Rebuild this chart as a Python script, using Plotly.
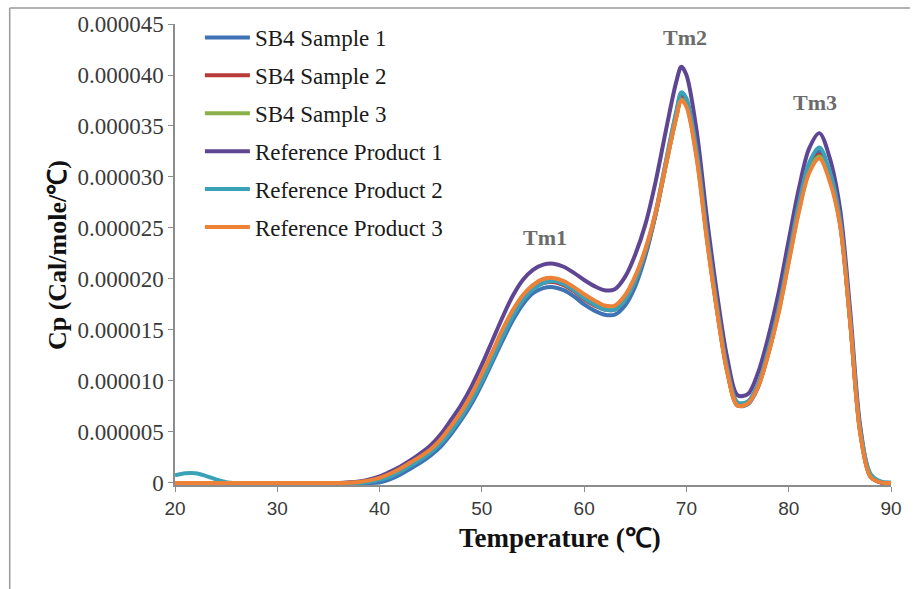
import plotly.graph_objects as go

# ---------------- data (Cp values in units of 1e-6 cal/mole/°C) ----------------
temperature = [20, 21, 22, 23, 24, 25, 26, 28, 30, 32, 34, 36, 37, 38, 39,
               40, 41, 42, 43, 44, 45, 46, 47, 48, 49, 50, 51, 52, 53, 54,
               55, 56, 57, 58, 59, 60, 61, 62, 63, 64, 65, 66, 67, 68, 69, 69.5,
               70, 71, 72, 73, 74, 75, 76, 77, 78, 79, 80, 81, 82, 83, 84,
               85, 86, 87, 88, 89, 90]

zeros_lead = [0, 0, 0, 0, 0, 0, 0, 0, 0, 0, 0]

sb4_sample_1 = zeros_lead + [0, 0, 0, 0,
    0.05, 0.35, 0.8, 1.4, 2.0, 2.7, 3.6, 4.8, 6.2, 7.8, 9.7, 11.8, 13.9, 15.9, 17.5,
    18.6, 19.1, 19.2, 18.9, 18.3, 17.5, 16.9, 16.5, 16.5, 17.4, 19.3, 22.3, 26.4, 31.4, 36.2, 38.0,
    37.5, 32.5, 24.4, 17.0, 11.0, 7.6, 7.7, 9.4, 12.8, 17.0, 22.1, 27.2, 31.1, 32.5, 30.3,
    25.8, 16.0, 5.0, 0.7, 0.05, 0]

sb4_sample_2 = zeros_lead + [0, 0.02, 0.08, 0.2,
    0.45, 0.8, 1.3, 1.9, 2.5, 3.2, 4.1, 5.4, 6.8, 8.4, 10.3, 12.4, 14.5, 16.5, 18.0,
    19.1, 19.6, 19.7, 19.4, 18.8, 18.0, 17.4, 17.0, 17.0, 17.9, 19.8, 22.6, 26.4, 31.2, 35.9, 37.8,
    37.2, 32.2, 24.1, 16.9, 10.9, 7.6, 7.8, 9.5, 12.7, 16.8, 21.9, 26.9, 30.8, 32.2, 30.0,
    25.6, 15.9, 4.9, 0.6, 0.05, 0]

sb4_sample_3 = zeros_lead + [0, 0.03, 0.1, 0.25,
    0.5, 0.85, 1.35, 1.95, 2.6, 3.3, 4.2, 5.5, 6.9, 8.6, 10.5, 12.7, 14.8, 16.8, 18.3,
    19.4, 19.9, 20.0, 19.7, 19.1, 18.3, 17.7, 17.3, 17.3, 18.2, 20.1, 22.8, 26.5, 31.2, 35.8, 37.6,
    37.0, 32.0, 24.0, 16.9, 10.9, 7.6, 7.8, 9.5, 12.7, 16.7, 21.7, 26.7, 30.6, 32.0, 29.8,
    25.5, 15.9, 4.9, 0.6, 0.05, 0]

reference_product_1 = zeros_lead + [0, 0.05, 0.15, 0.35,
    0.65, 1.1, 1.6, 2.2, 2.9, 3.7, 4.8, 6.2, 7.7, 9.5, 11.6, 13.9, 16.2, 18.3, 19.9,
    20.9, 21.4, 21.5, 21.2, 20.6, 19.9, 19.3, 18.9, 19.0, 20.2, 22.4, 25.4, 29.6, 34.6, 39.3, 40.8,
    40.0, 34.5, 26.0, 18.5, 12.2, 8.6, 8.7, 10.8, 14.3, 18.6, 23.8, 28.9, 32.8, 34.3, 31.9,
    27.0, 17.0, 5.5, 0.7, 0.05, 0]

reference_product_2 = [0.75, 0.95, 0.95, 0.7, 0.35, 0.08, 0, 0, 0, 0, 0, 0, 0, 0, 0.1,
    0.3, 0.6, 1.1, 1.7, 2.3, 3.0, 3.9, 5.1, 6.5, 8.1, 10.0, 12.1, 14.3, 16.3, 17.9,
    19.0, 19.6, 19.8, 19.5, 18.9, 18.1, 17.5, 17.0, 17.0, 17.9, 19.8, 22.7, 26.6, 31.6, 36.4, 38.3,
    37.7, 32.6, 24.5, 17.3, 11.2, 7.9, 8.0, 9.7, 13.0, 17.1, 22.2, 27.4, 31.4, 32.9, 30.6,
    26.0, 16.2, 5.2, 0.9, 0.15, 0.05]

reference_product_3 = zeros_lead + [0, 0.03, 0.1, 0.25,
    0.5, 0.9, 1.4, 2.0, 2.6, 3.3, 4.3, 5.6, 7.0, 8.7, 10.7, 12.8, 15.0, 16.9, 18.4,
    19.4, 20.0, 20.1, 19.8, 19.2, 18.5, 17.9, 17.4, 17.4, 18.4, 20.3, 23.0, 26.6, 31.3, 35.8, 37.5,
    36.9, 31.8, 23.8, 16.8, 10.8, 7.6, 7.8, 9.4, 12.6, 16.6, 21.6, 26.6, 30.4, 31.8, 29.6,
    25.4, 15.8, 4.8, 0.6, 0.05, 0]

series_names = ["SB4 Sample 1", "SB4 Sample 2", "SB4 Sample 3",
                "Reference Product 1", "Reference Product 2", "Reference Product 3"]
series_values = [sb4_sample_1, sb4_sample_2, sb4_sample_3,
                 reference_product_1, reference_product_2, reference_product_3]
series_colors = ["#3E73B5", "#B83A3A", "#8AB04A", "#5F4693", "#3AA2B8", "#EE8138"]

y_tick_values = [0, 5e-6, 10e-6, 15e-6, 20e-6, 25e-6, 30e-6, 35e-6, 40e-6, 45e-6]
y_tick_labels = ["0", "0.000005", "0.000010", "0.000015", "0.000020", "0.000025",
                 "0.000030", "0.000035", "0.000040", "0.000045"]
x_tick_values = [20, 30, 40, 50, 60, 70, 80, 90]

peak_labels = ["Tm1", "Tm2", "Tm3"]
peak_label_x = [56.2, 69.85, 82.6]
peak_label_y = [24.1e-6, 43.7e-6, 37.3e-6]

# ---------------- figure ----------------
W, H = 914, 589
ML, MR, MT, MB = 175, 20, 24, 104
PW, PH = W - ML - MR, H - MT - MB


def px_to_paper(px, py):
    return (px - ML) / PW, (H - MB - py) / PH


fig = go.Figure()
for name, vals, col in zip(series_names, series_values, series_colors):
    fig.add_trace(go.Scatter(
        x=temperature, y=[v * 1e-6 for v in vals], name=name, mode="lines",
        line=dict(color=col, width=4, shape="spline", smoothing=0.9),
        legendgroup=name, hoverinfo="skip"))

serif = "Liberation Serif, Times New Roman, serif"

for lab, lx, ly in zip(peak_labels, peak_label_x, peak_label_y):
    fig.add_annotation(x=lx, y=ly, text="<b>" + lab + "</b>", showarrow=False,
                       font=dict(family=serif, size=22, color="#6b6b6b"))

# axis titles
tx, ty = px_to_paper(562, 555)
fig.add_annotation(x=tx, y=ty, xref="paper", yref="paper", showarrow=False,
                   text="<b>Temperature (℃)</b>",
                   font=dict(family=serif, size=27, color="#111"))
tx, ty = px_to_paper(40, 255)
fig.add_annotation(x=tx, y=ty, xref="paper", yref="paper", showarrow=False,
                   text="<b>Cp (Cal/mole/℃)</b>", textangle=-90,
                   font=dict(family=serif, size=26, color="#111"))

# frame lines of the picture
x0, y0 = px_to_paper(9, 8)
x1, _ = px_to_paper(913, 8)
_, y1 = px_to_paper(9, 589)
fig.add_shape(type="line", xref="paper", yref="paper", x0=x0, y0=y0, x1=x1, y1=y0,
              line=dict(color="#9a9a9a", width=1.5))
fig.add_shape(type="line", xref="paper", yref="paper", x0=x0, y0=y0, x1=x0, y1=y1,
              line=dict(color="#9a9a9a", width=1.5))

lx, ly = px_to_paper(200, 16)
fig.update_layout(
    width=W, height=H,
    margin=dict(l=ML, r=MR, t=MT, b=MB),
    paper_bgcolor="white", plot_bgcolor="white",
    showlegend=True,
    legend=dict(x=lx, y=ly, xanchor="left", yanchor="top",
                bgcolor="rgba(255,255,255,0)", borderwidth=0,
                font=dict(family=serif, size=23, color="#1a1a1a"),
                itemwidth=45, tracegroupgap=5, traceorder="grouped"),
    xaxis=dict(range=[20, 90], tickvals=x_tick_values, showgrid=False, zeroline=False,
               showline=True, linecolor="#8c8c8c", linewidth=1.5,
               ticks="outside", ticklen=5, tickcolor="#8c8c8c",
               tickfont=dict(family="Liberation Sans, Arial, sans-serif", size=19, color="#3a3a3a")),
    yaxis=dict(range=[-0.2e-6, 45e-6], tickvals=y_tick_values, ticktext=y_tick_labels,
               showgrid=False, zeroline=False,
               showline=True, linecolor="#8c8c8c", linewidth=1.5,
               ticks="outside", ticklen=5, tickcolor="#8c8c8c",
               tickfont=dict(family=serif, size=23, color="#3a3a3a")),
)

fig.write_html("out.html")
